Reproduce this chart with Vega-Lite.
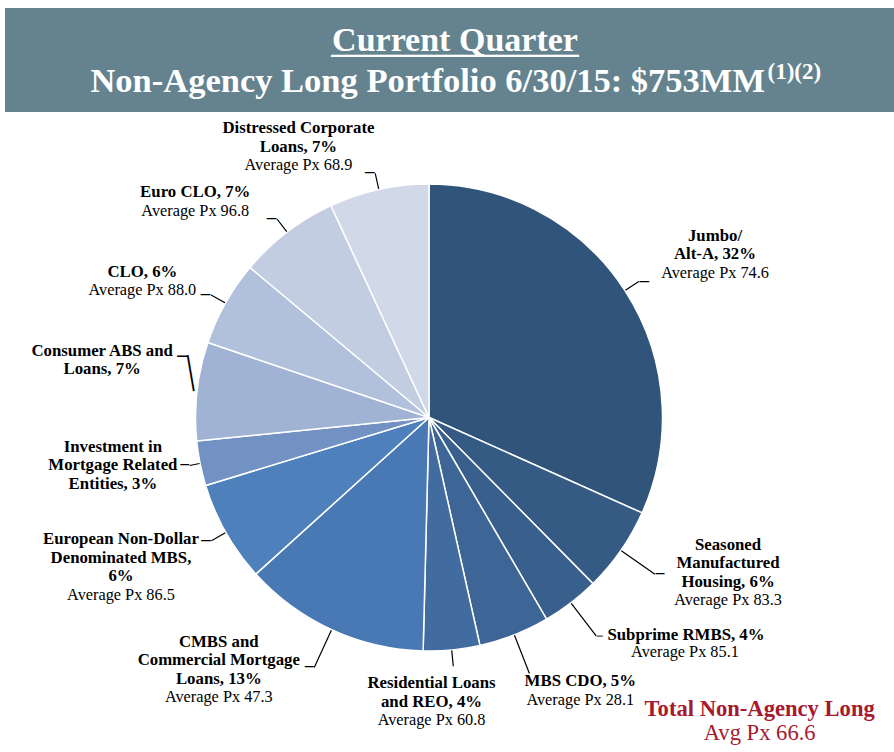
{
  "$schema": "https://vega.github.io/schema/vega-lite/v6.json",
  "background": "white",
  "padding": {"left": 5, "top": 8, "right": 0, "bottom": 0},
  "spacing": 0,
  "bounds": "flush",
  "config": {"view": {"stroke": null}},
  "vconcat": [
    {
      "width": 889,
      "height": 104,
      "view": {"fill": "#64838F", "stroke": null},
      "data": {"values": [{"line1": "Current Quarter", "line2": "Non-Agency Long Portfolio 6/30/15: $753MM", "sup": "(1)(2)"}]},
      "layer": [
        {"mark": {"type": "text", "font": "Liberation Serif", "fontWeight": "bold", "fontSize": 34, "color": "white", "align": "center", "baseline": "alphabetic", "dx": 5.5, "dy": -9}, "encoding": {"text": {"field": "line1", "type": "nominal"}}},
        {"mark": {"type": "text", "font": "Liberation Serif", "fontWeight": "bold", "fontSize": 33, "color": "white", "align": "center", "baseline": "alphabetic", "dx": 5.5, "dy": -8}, "encoding": {"text": {"value": "_______________"}}},
        {"mark": {"type": "text", "font": "Liberation Serif", "fontWeight": "bold", "fontSize": 34.5, "color": "white", "align": "right", "baseline": "alphabetic", "dx": 315.5, "dy": 32}, "encoding": {"text": {"field": "line2", "type": "nominal"}}},
        {"mark": {"type": "text", "font": "Liberation Serif", "fontWeight": "bold", "fontSize": 23, "color": "white", "align": "left", "baseline": "alphabetic", "dx": 318, "dy": 19}, "encoding": {"text": {"field": "sup", "type": "nominal"}}}
      ]
    },
    {
      "width": 848,
      "height": 611,
      "data": {"values": [
        {"order": 1, "key": "J", "value": 31.7, "label": "Jumbo/\nAlt-A, 32%", "price": "Average Px 74.6"},
        {"order": 2, "key": "SE", "value": 5.9, "label": "Seasoned\nManufactured\nHousing, 6%", "price": "Average Px 83.3"},
        {"order": 3, "key": "SU", "value": 4.0, "label": "Subprime RMBS, 4%", "price": "Average Px 85.1"},
        {"order": 4, "key": "MB", "value": 4.9, "label": "MBS CDO, 5%", "price": "Average Px 28.1"},
        {"order": 5, "key": "RE", "value": 3.9, "label": "Residential Loans\nand REO, 4%", "price": "Average Px 60.8"},
        {"order": 6, "key": "CM", "value": 12.9, "label": "CMBS and\nCommercial Mortgage\nLoans, 13%", "price": "Average Px 47.3"},
        {"order": 7, "key": "EU", "value": 7.0, "label": "European Non-Dollar\nDenominated MBS,\n6%", "price": "Average Px 86.5"},
        {"order": 8, "key": "IN", "value": 3.1, "label": "Investment in\nMortgage Related\nEntities, 3%", "price": ""},
        {"order": 9, "key": "CO", "value": 6.8, "label": "Consumer ABS and\nLoans, 7%", "price": ""},
        {"order": 10, "key": "CL", "value": 5.9, "label": "CLO, 6%", "price": "Average Px 88.0"},
        {"order": 11, "key": "EC", "value": 7.0, "label": "Euro CLO, 7%", "price": "Average Px 96.8"},
        {"order": 12, "key": "DI", "value": 6.9, "label": "Distressed Corporate\nLoans, 7%", "price": "Average Px 68.9"}
      ]},
      "layer": [
        {"mark": {"type": "arc", "radius": 233.5, "stroke": "white", "strokeWidth": 1.5},
         "encoding": {"theta": {"field": "value", "type": "quantitative", "stack": true}, "order": {"field": "order", "type": "quantitative"},
           "color": {"field": "key", "type": "nominal", "legend": null, "scale": {"domain": ["J", "SE", "SU", "MB", "RE", "CM", "EU", "IN", "CO", "CL", "EC", "DI"], "range": ["#31547A", "#355A84", "#395F8C", "#3D6595", "#426BA0", "#4979B4", "#4E80BC", "#7192C3", "#A0B3D4", "#B1C1DC", "#C2CDE2", "#D1D9E8"]}}}},
        {"mark": {"type": "arc", "radius": 250, "radius2": 234, "padAngle": 3, "filled": false, "strokeWidth": 1.2},
         "encoding": {"theta": {"field": "value", "type": "quantitative", "stack": true}, "order": {"field": "order", "type": "quantitative"},
           "stroke": {"condition": {"test": "indexof(['J','RE','EU','CL','EC','DI'], datum.key) >= 0", "value": "#000000"}, "value": "transparent"}}},
        {"mark": {"type": "arc", "radius": 275, "radius2": 234, "padAngle": 3, "filled": false, "strokeWidth": 1.2},
         "encoding": {"theta": {"field": "value", "type": "quantitative", "stack": true}, "order": {"field": "order", "type": "quantitative"},
           "stroke": {"condition": {"test": "indexof(['SE','SU','MB','CM'], datum.key) >= 0", "value": "#000000"}, "value": "transparent"}}},
        {"mark": {"type": "arc", "radius": 244, "radius2": 234, "padAngle": 3, "filled": false, "strokeWidth": 1.2},
         "encoding": {"theta": {"field": "value", "type": "quantitative", "stack": true}, "order": {"field": "order", "type": "quantitative"},
           "stroke": {"condition": {"test": "datum.key === 'IN'", "value": "#000000"}, "value": "transparent"}}},
        {"mark": {"type": "text", "radius": 236, "align": "left", "baseline": "alphabetic", "angle": -99.7, "dy": 7.5, "font": "Liberation Serif", "fontSize": 36, "color": "#000000"},
         "encoding": {"theta": {"field": "value", "type": "quantitative", "stack": true}, "order": {"field": "order", "type": "quantitative"},
           "text": {"condition": {"test": "datum.key === 'CO'", "value": "—"}, "value": ""}}},

        {"mark": {"type": "text", "radius": 250, "align": "left", "baseline": "middle", "font": "DejaVu Sans", "fontWeight": "bold", "fontSize": 11, "color": "#000000"},
         "encoding": {"theta": {"field": "value", "type": "quantitative", "stack": true}, "order": {"field": "order", "type": "quantitative"},
           "text": {"condition": {"test": "datum.key === 'J'", "value": "—"}, "value": ""}}},
        {"mark": {"type": "text", "radius": 275, "align": "left", "baseline": "middle", "font": "DejaVu Sans", "fontWeight": "bold", "fontSize": 10, "color": "#000000"},
         "encoding": {"theta": {"field": "value", "type": "quantitative", "stack": true}, "order": {"field": "order", "type": "quantitative"},
           "text": {"condition": {"test": "datum.key === 'SE'", "value": "—"}, "value": ""}}},
        {"mark": {"type": "text", "radius": 275, "align": "left", "baseline": "middle", "font": "DejaVu Sans", "fontWeight": "bold", "fontSize": 7, "color": "#000000"},
         "encoding": {"theta": {"field": "value", "type": "quantitative", "stack": true}, "order": {"field": "order", "type": "quantitative"},
           "text": {"condition": {"test": "datum.key === 'SU'", "value": "—"}, "value": ""}}},
        {"mark": {"type": "text", "radius": 250, "align": "right", "baseline": "middle", "font": "DejaVu Sans", "fontWeight": "bold", "fontSize": 11, "color": "#000000"},
         "encoding": {"theta": {"field": "value", "type": "quantitative", "stack": true}, "order": {"field": "order", "type": "quantitative"},
           "text": {"condition": {"test": "indexof(['EU','CL','EC','DI'], datum.key) >= 0", "value": "—"}, "value": ""}}},
        {"mark": {"type": "text", "radius": 275, "align": "right", "baseline": "middle", "font": "DejaVu Sans", "fontWeight": "bold", "fontSize": 10, "color": "#000000"},
         "encoding": {"theta": {"field": "value", "type": "quantitative", "stack": true}, "order": {"field": "order", "type": "quantitative"},
           "text": {"condition": {"test": "datum.key === 'CM'", "value": "—"}, "value": ""}}},
        {"mark": {"type": "text", "radius": 244, "align": "right", "baseline": "middle", "font": "DejaVu Sans", "fontWeight": "bold", "fontSize": 10, "color": "#000000"},
         "encoding": {"theta": {"field": "value", "type": "quantitative", "stack": true}, "order": {"field": "order", "type": "quantitative"},
           "text": {"condition": {"test": "datum.key === 'IN'", "value": "—"}, "value": ""}}},
        {"mark": {"type": "text", "radius": 236, "align": "right", "baseline": "middle", "dx": -6, "dy": -35, "font": "DejaVu Sans", "fontWeight": "bold", "fontSize": 12, "color": "#000000"},
         "encoding": {"theta": {"field": "value", "type": "quantitative", "stack": true}, "order": {"field": "order", "type": "quantitative"},
           "text": {"condition": {"test": "datum.key === 'CO'", "value": "—"}, "value": ""}}},

        {"mark": {"type": "text", "radius": 250, "align": "center", "baseline": "alphabetic", "font": "Liberation Serif", "fontWeight": "bold", "fontSize": 16.8, "lineBreak": "\n", "lineHeight": 18.5, "color": "#000000", "dx": 76.2, "dy": -40.6},
         "encoding": {"theta": {"field": "value", "type": "quantitative", "stack": true}, "order": {"field": "order", "type": "quantitative"}, "text": {"condition": {"test": "datum.key === 'J'", "field": "label", "type": "nominal"}, "value": ""}}},
        {"mark": {"type": "text", "radius": 250, "align": "center", "baseline": "alphabetic", "font": "Liberation Serif", "fontSize": 16.3, "color": "#000000", "dx": 76.2, "dy": -3.6},
         "encoding": {"theta": {"field": "value", "type": "quantitative", "stack": true}, "order": {"field": "order", "type": "quantitative"}, "text": {"condition": {"test": "datum.key === 'J'", "field": "price", "type": "nominal"}, "value": ""}}},

        {"mark": {"type": "text", "radius": 250, "align": "center", "baseline": "alphabetic", "font": "Liberation Serif", "fontWeight": "bold", "fontSize": 16.8, "lineBreak": "\n", "lineHeight": 18.5, "color": "#000000", "dx": 93.6, "dy": -10},
         "encoding": {"theta": {"field": "value", "type": "quantitative", "stack": true}, "order": {"field": "order", "type": "quantitative"}, "text": {"condition": {"test": "datum.key === 'SE'", "field": "label", "type": "nominal"}, "value": ""}}},
        {"mark": {"type": "text", "radius": 250, "align": "center", "baseline": "alphabetic", "font": "Liberation Serif", "fontSize": 16.3, "color": "#000000", "dx": 93.6, "dy": 45.5},
         "encoding": {"theta": {"field": "value", "type": "quantitative", "stack": true}, "order": {"field": "order", "type": "quantitative"}, "text": {"condition": {"test": "datum.key === 'SE'", "field": "price", "type": "nominal"}, "value": ""}}},

        {"mark": {"type": "text", "radius": 250, "align": "center", "baseline": "alphabetic", "font": "Liberation Serif", "fontWeight": "bold", "fontSize": 16.8, "lineBreak": "\n", "lineHeight": 18.5, "color": "#000000", "dx": 105, "dy": 24},
         "encoding": {"theta": {"field": "value", "type": "quantitative", "stack": true}, "order": {"field": "order", "type": "quantitative"}, "text": {"condition": {"test": "datum.key === 'SU'", "field": "label", "type": "nominal"}, "value": ""}}},
        {"mark": {"type": "text", "radius": 250, "align": "center", "baseline": "alphabetic", "font": "Liberation Serif", "fontSize": 16.3, "color": "#000000", "dx": 104, "dy": 41.5},
         "encoding": {"theta": {"field": "value", "type": "quantitative", "stack": true}, "order": {"field": "order", "type": "quantitative"}, "text": {"condition": {"test": "datum.key === 'SU'", "field": "price", "type": "nominal"}, "value": ""}}},

        {"mark": {"type": "text", "radius": 250, "align": "center", "baseline": "alphabetic", "font": "Liberation Serif", "fontWeight": "bold", "fontSize": 16.8, "lineBreak": "\n", "lineHeight": 18.5, "color": "#000000", "dx": 60, "dy": 35.8},
         "encoding": {"theta": {"field": "value", "type": "quantitative", "stack": true}, "order": {"field": "order", "type": "quantitative"}, "text": {"condition": {"test": "datum.key === 'MB'", "field": "label", "type": "nominal"}, "value": ""}}},
        {"mark": {"type": "text", "radius": 250, "align": "center", "baseline": "alphabetic", "font": "Liberation Serif", "fontSize": 16.3, "color": "#000000", "dx": 60, "dy": 54.3},
         "encoding": {"theta": {"field": "value", "type": "quantitative", "stack": true}, "order": {"field": "order", "type": "quantitative"}, "text": {"condition": {"test": "datum.key === 'MB'", "field": "price", "type": "nominal"}, "value": ""}}},

        {"mark": {"type": "text", "radius": 250, "align": "center", "baseline": "alphabetic", "font": "Liberation Serif", "fontWeight": "bold", "fontSize": 16.8, "lineBreak": "\n", "lineHeight": 18.5, "color": "#000000", "dx": -21.8, "dy": 22},
         "encoding": {"theta": {"field": "value", "type": "quantitative", "stack": true}, "order": {"field": "order", "type": "quantitative"}, "text": {"condition": {"test": "datum.key === 'RE'", "field": "label", "type": "nominal"}, "value": ""}}},
        {"mark": {"type": "text", "radius": 250, "align": "center", "baseline": "alphabetic", "font": "Liberation Serif", "fontSize": 16.3, "color": "#000000", "dx": -21.8, "dy": 59},
         "encoding": {"theta": {"field": "value", "type": "quantitative", "stack": true}, "order": {"field": "order", "type": "quantitative"}, "text": {"condition": {"test": "datum.key === 'RE'", "field": "price", "type": "nominal"}, "value": ""}}},

        {"mark": {"type": "text", "radius": 250, "align": "center", "baseline": "alphabetic", "font": "Liberation Serif", "fontWeight": "bold", "fontSize": 16.8, "lineBreak": "\n", "lineHeight": 18.5, "color": "#000000", "dx": -105.9, "dy": 2},
         "encoding": {"theta": {"field": "value", "type": "quantitative", "stack": true}, "order": {"field": "order", "type": "quantitative"}, "text": {"condition": {"test": "datum.key === 'CM'", "field": "label", "type": "nominal"}, "value": ""}}},
        {"mark": {"type": "text", "radius": 250, "align": "center", "baseline": "alphabetic", "font": "Liberation Serif", "fontSize": 16.3, "color": "#000000", "dx": -105.9, "dy": 57.5},
         "encoding": {"theta": {"field": "value", "type": "quantitative", "stack": true}, "order": {"field": "order", "type": "quantitative"}, "text": {"condition": {"test": "datum.key === 'CM'", "field": "price", "type": "nominal"}, "value": ""}}},

        {"mark": {"type": "text", "radius": 250, "align": "center", "baseline": "alphabetic", "font": "Liberation Serif", "fontWeight": "bold", "fontSize": 16.8, "lineBreak": "\n", "lineHeight": 18.5, "color": "#000000", "dx": -90.5, "dy": 3.6},
         "encoding": {"theta": {"field": "value", "type": "quantitative", "stack": true}, "order": {"field": "order", "type": "quantitative"}, "text": {"condition": {"test": "datum.key === 'EU'", "field": "label", "type": "nominal"}, "value": ""}}},
        {"mark": {"type": "text", "radius": 250, "align": "center", "baseline": "alphabetic", "font": "Liberation Serif", "fontSize": 16.3, "color": "#000000", "dx": -90.5, "dy": 59.1},
         "encoding": {"theta": {"field": "value", "type": "quantitative", "stack": true}, "order": {"field": "order", "type": "quantitative"}, "text": {"condition": {"test": "datum.key === 'EU'", "field": "price", "type": "nominal"}, "value": ""}}},

        {"mark": {"type": "text", "radius": 250, "align": "center", "baseline": "alphabetic", "font": "Liberation Serif", "fontWeight": "bold", "fontSize": 16.8, "lineBreak": "\n", "lineHeight": 18.5, "color": "#000000", "dx": -71, "dy": -15},
         "encoding": {"theta": {"field": "value", "type": "quantitative", "stack": true}, "order": {"field": "order", "type": "quantitative"}, "text": {"condition": {"test": "datum.key === 'IN'", "field": "label", "type": "nominal"}, "value": ""}}},

        {"mark": {"type": "text", "radius": 250, "align": "center", "baseline": "alphabetic", "font": "Liberation Serif", "fontWeight": "bold", "fontSize": 16.8, "lineBreak": "\n", "lineHeight": 18.5, "color": "#000000", "dx": -78.4, "dy": -33.3},
         "encoding": {"theta": {"field": "value", "type": "quantitative", "stack": true}, "order": {"field": "order", "type": "quantitative"}, "text": {"condition": {"test": "datum.key === 'CO'", "field": "label", "type": "nominal"}, "value": ""}}},

        {"mark": {"type": "text", "radius": 250, "align": "center", "baseline": "alphabetic", "font": "Liberation Serif", "fontWeight": "bold", "fontSize": 16.8, "lineBreak": "\n", "lineHeight": 18.5, "color": "#000000", "dx": -68.7, "dy": -18.3},
         "encoding": {"theta": {"field": "value", "type": "quantitative", "stack": true}, "order": {"field": "order", "type": "quantitative"}, "text": {"condition": {"test": "datum.key === 'CL'", "field": "label", "type": "nominal"}, "value": ""}}},
        {"mark": {"type": "text", "radius": 250, "align": "center", "baseline": "alphabetic", "font": "Liberation Serif", "fontSize": 16.3, "color": "#000000", "dx": -68.7, "dy": 0.2},
         "encoding": {"theta": {"field": "value", "type": "quantitative", "stack": true}, "order": {"field": "order", "type": "quantitative"}, "text": {"condition": {"test": "datum.key === 'CL'", "field": "price", "type": "nominal"}, "value": ""}}},

        {"mark": {"type": "text", "radius": 250, "align": "center", "baseline": "alphabetic", "font": "Liberation Serif", "fontWeight": "bold", "fontSize": 16.8, "lineBreak": "\n", "lineHeight": 18.5, "color": "#000000", "dx": -81.8, "dy": -21.7},
         "encoding": {"theta": {"field": "value", "type": "quantitative", "stack": true}, "order": {"field": "order", "type": "quantitative"}, "text": {"condition": {"test": "datum.key === 'EC'", "field": "label", "type": "nominal"}, "value": ""}}},
        {"mark": {"type": "text", "radius": 250, "align": "center", "baseline": "alphabetic", "font": "Liberation Serif", "fontSize": 16.3, "color": "#000000", "dx": -81.8, "dy": -3.2},
         "encoding": {"theta": {"field": "value", "type": "quantitative", "stack": true}, "order": {"field": "order", "type": "quantitative"}, "text": {"condition": {"test": "datum.key === 'EC'", "field": "price", "type": "nominal"}, "value": ""}}},

        {"mark": {"type": "text", "radius": 250, "align": "center", "baseline": "alphabetic", "font": "Liberation Serif", "fontWeight": "bold", "fontSize": 16.8, "lineBreak": "\n", "lineHeight": 18.5, "color": "#000000", "dx": -76.8, "dy": -40},
         "encoding": {"theta": {"field": "value", "type": "quantitative", "stack": true}, "order": {"field": "order", "type": "quantitative"}, "text": {"condition": {"test": "datum.key === 'DI'", "field": "label", "type": "nominal"}, "value": ""}}},
        {"mark": {"type": "text", "radius": 250, "align": "center", "baseline": "alphabetic", "font": "Liberation Serif", "fontSize": 16.3, "color": "#000000", "dx": -76.8, "dy": -3},
         "encoding": {"theta": {"field": "value", "type": "quantitative", "stack": true}, "order": {"field": "order", "type": "quantitative"}, "text": {"condition": {"test": "datum.key === 'DI'", "field": "price", "type": "nominal"}, "value": ""}}},

        {"data": {"values": [{"t1": "Total Non-Agency Long", "t2": "Avg Px 66.6"}]},
         "mark": {"type": "text", "font": "Liberation Serif", "fontWeight": "bold", "fontSize": 22.6, "color": "#A6192E", "align": "center", "baseline": "alphabetic", "dx": 330.7, "dy": 298.5},
         "encoding": {"text": {"field": "t1", "type": "nominal"}}},
        {"data": {"values": [{"t1": "Total Non-Agency Long", "t2": "Avg Px 66.6"}]},
         "mark": {"type": "text", "font": "Liberation Serif", "fontSize": 22.6, "color": "#A6192E", "align": "center", "baseline": "alphabetic", "dx": 330.7, "dy": 322.5},
         "encoding": {"text": {"field": "t2", "type": "nominal"}}}
      ]
    }
  ]
}
